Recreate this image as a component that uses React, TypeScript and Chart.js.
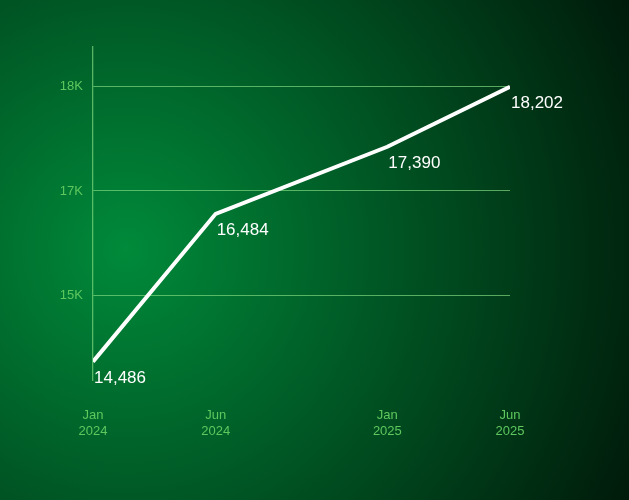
import React, { useEffect, useRef } from "react";
import { Chart, registerables } from "chart.js";

Chart.register(...registerables);

const monthIndex = [0, 5, 12, 17];
const tickLabels = [["Jan", "2024"], ["Jun", "2024"], ["Jan", "2025"], ["Jun", "2025"]];
const values = [14486, 16484, 17390, 18202];
const yTickValues = [15384, 16793, 18202];
const yTickLabels = ["15K", "17K", "18K"];

const FONT = "'Liberation Sans', Arial, sans-serif";
const GRID = "rgba(125, 215, 125, 0.7)";
const TICK = "#5ec85e";

const dataLabels = {
  id: "dataLabels",
  afterDatasetsDraw(chart: any) {
    const ctx = chart.ctx;
    const meta = chart.getDatasetMeta(0);
    ctx.save();
    ctx.fillStyle = "#ffffff";
    ctx.font = `17px ${FONT}`;
    ctx.textAlign = "left";
    ctx.textBaseline = "alphabetic";
    meta.data.forEach((pt: any, i: number) => {
      ctx.fillText(values[i].toLocaleString("en-US"), pt.x + 1, pt.y + 21);
    });
    ctx.restore();
  },
};

export default function App() {
  const ref = useRef<HTMLCanvasElement | null>(null);
  useEffect(() => {
    if (!ref.current) return;
    const chart = new Chart(ref.current, {
      type: "line",
      data: {
        datasets: [
          {
            data: monthIndex.map((m, i) => ({ x: m, y: values[i] })),
            borderColor: "#ffffff",
            borderWidth: 4,
            pointRadius: 0,
            tension: 0,
            fill: false,
          },
        ],
      },
      options: {
        responsive: false,
        animation: false,
        layout: { padding: { left: 0, right: 119, top: 47, bottom: 0 } },
        plugins: { legend: { display: false }, tooltip: { enabled: false } },
        scales: {
          x: {
            type: "linear",
            min: 0,
            max: 17,
            grid: { display: false, drawTicks: false },
            border: { display: false },
            afterBuildTicks: (s: any) => {
              s.ticks = monthIndex.map((v) => ({ value: v }));
            },
            afterFit: (s: any) => {
              s.height = 120;
            },
            ticks: {
              autoSkip: false,
              maxRotation: 0,
              padding: 27,
              color: TICK,
              font: { family: FONT, size: 13, lineHeight: "16px" },
              callback: (v: any) => {
                const i = monthIndex.indexOf(Number(v));
                return i >= 0 ? tickLabels[i] : "";
              },
            },
          },
          y: {
            type: "linear",
            min: 14239,
            max: 18738,
            grid: { color: GRID, lineWidth: 1, drawTicks: false },
            border: { display: true, color: GRID, width: 1.3 },
            afterBuildTicks: (s: any) => {
              s.ticks = yTickValues.map((v) => ({ value: v }));
            },
            afterFit: (s: any) => {
              s.width = 93;
            },
            ticks: {
              padding: 10,
              color: TICK,
              font: { family: FONT, size: 13 },
              callback: (v: any) => {
                const i = yTickValues.indexOf(Number(v));
                return i >= 0 ? yTickLabels[i] : "";
              },
            },
          },
        },
      },
      plugins: [dataLabels],
    });
    return () => chart.destroy();
  }, []);

  return (
    <div
      style={{
        position: "fixed",
        left: 0,
        top: 0,
        width: 629,
        height: 500,
        background: "radial-gradient(circle at 20% 50%, #008a3a 0%, #001a0a 100%)",
      }}
    >
      <canvas ref={ref} width={629} height={500} style={{ display: "block" }} />
    </div>
  );
}
